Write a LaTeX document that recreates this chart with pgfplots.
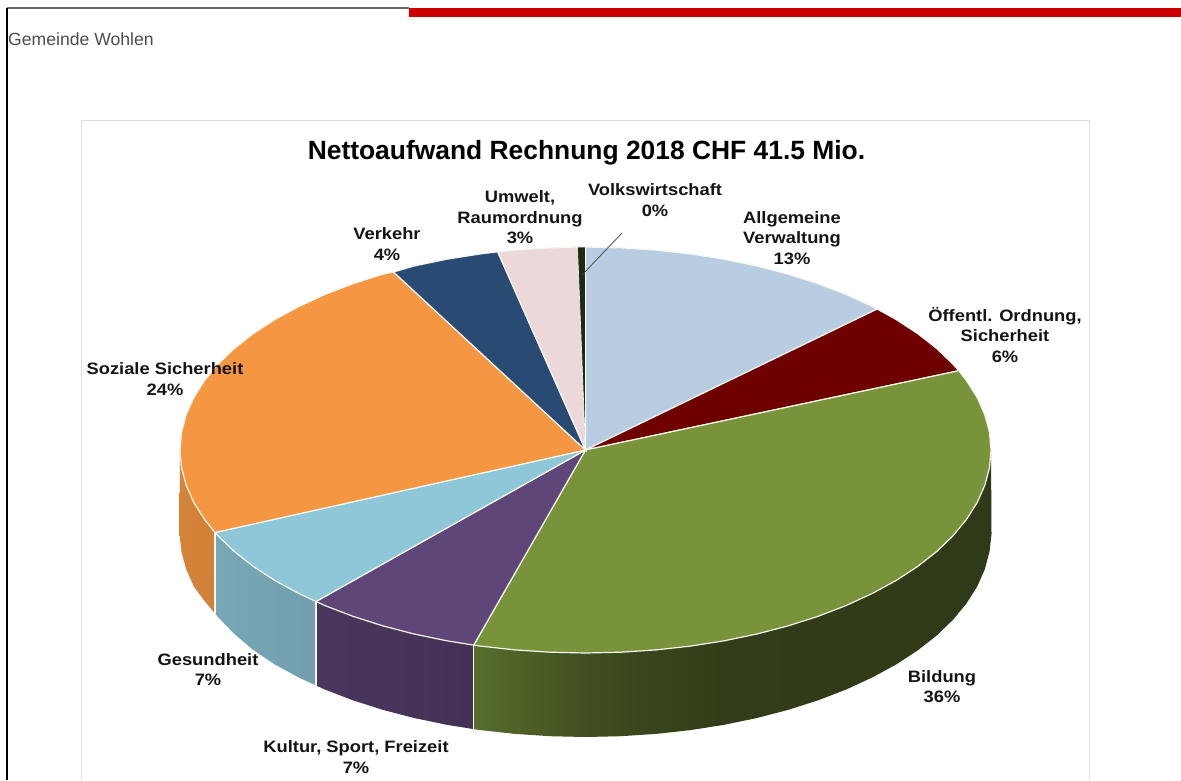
\documentclass[border=0pt]{standalone}
\usepackage{fontspec}
\setmainfont{Liberation Sans}
\newfontfamily\labfont[FakeStretch=1.11]{Liberation Sans}
\usepackage{pgfplots}
\pgfplotsset{compat=1.18}

\definecolor{cAllg}{HTML}{B8CCE2}
\definecolor{cOeff}{HTML}{6E0000}
\definecolor{cBild}{HTML}{789339}
\definecolor{cKult}{HTML}{5F4679}
\definecolor{cGes}{HTML}{8FC7D9}
\definecolor{cSoz}{HTML}{F59642}
\definecolor{cVerk}{HTML}{284A73}
\definecolor{cUmw}{HTML}{ECD8D8}
\definecolor{cVolk}{HTML}{1E2A12}
\definecolor{edge}{HTML}{F6F8F0}

% 25bp is the left end of the path, 75bp the right end
\pgfdeclarehorizontalshading{greenwall}{100bp}{
  rgb(0bp)=(.345,.43,.17); rgb(25bp)=(.345,.43,.17); rgb(37bp)=(.245,.30,.12);
  rgb(49bp)=(.195,.235,.095); rgb(100bp)=(.185,.22,.09)}

\newcommand{\lab}[3]{\node[align=center, text=black!92, font=\labfont\fontsize{16.5}{20.5}\selectfont\bfseries] at (axis cs:#1,#2) {#3};}

\begin{document}
\begin{tikzpicture}
\begin{axis}[
  width=1181pt, height=780pt, scale only axis,
  xmin=0, xmax=1181, ymin=0, ymax=780, y dir=reverse,
  hide axis, no markers, clip=true,
]
% page and frame
\addplot[fill=white, draw=none] coordinates {(0,0) (1181,0) (1181,780) (0,780)} -- cycle;
\addplot[draw=black!60, line width=1.2pt] coordinates {(7,8) (409,8)};
\addplot[draw=black, line width=1.1pt] coordinates {(7,8) (7,780)};
\addplot[fill=red!80!black, draw=none] coordinates {(409,8) (1181,8) (1181,17) (409,17)} -- cycle;
\addplot[draw=black!13, line width=0.9pt] coordinates {(81.5,780) (81.5,120.5) (1089,120.5) (1089,780)};

% side walls
\addplot[shading=axis, left color=cSoz!88!black, right color=cSoz!85!black, draw=none] coordinates {
  (215,532.5) (204.5,519.4) (193.8,502.5) (186.2,485.3) (181.5,467.7) (180,450)
  (179.5,534) (181.5,551.7) (186.2,569.3) (193.8,586.5) (204.5,601) (215,613.5)} -- cycle;
\addplot[shading=axis, left color=cGes!84!black, right color=cGes!80!black, draw=none] coordinates {
  (316,601.5) (298.8,593.5) (274.9,580.5) (253.3,566.4) (234.3,551.5) (218,535.8) (215,532.5)
  (215,613.5) (218,617) (234.3,634) (253.3,650) (274.9,664.5) (298.8,677.5) (316,685.5)} -- cycle;
\addplot[shading=axis, left color=cKult!78!black, right color=cKult!70!black, draw=none] coordinates {
  (473.7,645.1) (446.8,640.8) (414.1,634) (382.7,625.8) (352.9,616.3) (324.8,605.5) (316,601.5)
  (316,685.5) (324.8,689.5) (352.9,700.3) (382.7,709.8) (414.1,718) (446.8,724.8) (473.7,729.1)} -- cycle;
\addplot[shading=greenwall, draw=none] coordinates {
  (473.7,645.1) (480.5,646.1) (515.1,649.9) (550.2,652.2) (585.5,653) (620.8,652.2) (655.9,649.9)
  (690.5,646.1) (724.2,640.8) (756.9,634) (788.3,625.8) (818.1,616.3) (846.2,605.5) (872.2,593.5)
  (896.1,580.5) (917.7,566.4) (936.7,551.5) (953,535.8) (966.5,519.4) (977.2,502.5) (984.8,485.3)
  (989.5,467.7) (991,450)
  (991.5,534) (989.5,551.7) (984.8,569.3) (977.2,586.5) (966.5,603.4) (953,619.8) (936.7,635.5)
  (917.7,650.4) (896.1,664.5) (872.2,677.5) (846.2,689.5) (818.1,700.3) (788.3,709.8) (756.9,718)
  (724.2,724.8) (690.5,730.1) (655.9,733.9) (620.8,736.2) (585.5,737) (550.2,736.2) (515.1,733.9)
  (480.5,730.1) (473.7,729.1)} -- cycle;
% wall seams
\addplot[draw=edge, line width=1.2pt] coordinates {(215,532.5) (215,613.5)};
\addplot[draw=edge, line width=1.2pt] coordinates {(316,601.5) (316,685.5)};
\addplot[draw=edge, line width=1.2pt] coordinates {(473.7,645.1) (473.7,729.1)};

% top slices
\addplot[fill=cAllg, draw=edge, line width=1.2pt] coordinates {
  (585.5,450) (585.5,247) (620.8,247.8) (655.9,250.1) (690.5,253.9) (724.2,259.2) (756.9,266)
  (788.3,274.2) (818.1,283.7) (846.2,294.5) (872.2,306.5) (877.2,309)} -- cycle;
\addplot[fill=cOeff, draw=edge, line width=1.2pt] coordinates {
  (585.5,450) (877.2,309) (896.1,319.5) (917.7,333.6) (936.7,348.5) (953,364.2) (958.8,370.7)} -- cycle;
\addplot[fill=cBild, draw=edge, line width=1.2pt] coordinates {
  (585.5,450) (958.8,370.7) (966.5,380.6) (977.2,397.5) (984.8,414.7) (989.5,432.3) (991,450)
  (989.5,467.7) (984.8,485.3) (977.2,502.5) (966.5,519.4) (953,535.8) (936.7,551.5) (917.7,566.4)
  (896.1,580.5) (872.2,593.5) (846.2,605.5) (818.1,616.3) (788.3,625.8) (756.9,634) (724.2,640.8)
  (690.5,646.1) (655.9,649.9) (620.8,652.2) (585.5,653) (550.2,652.2) (515.1,649.9) (480.5,646.1)
  (473.7,645.1)} -- cycle;
\addplot[fill=cKult, draw=edge, line width=1.2pt] coordinates {
  (585.5,450) (473.7,645.1) (446.8,640.8) (414.1,634) (382.7,625.8) (352.9,616.3) (324.8,605.5)
  (316,601.5)} -- cycle;
\addplot[fill=cGes, draw=edge, line width=1.2pt] coordinates {
  (585.5,450) (316,601.5) (298.8,593.5) (274.9,580.5) (253.3,566.4) (234.3,551.5) (218,535.8)
  (215,532.5)} -- cycle;
\addplot[fill=cSoz, draw=edge, line width=1.2pt] coordinates {
  (585.5,450) (215,532.5) (204.5,519.4) (193.8,502.5) (186.2,485.3) (181.5,467.7) (180,450)
  (181.5,432.3) (186.2,414.7) (193.8,397.5) (204.5,380.6) (218,364.2) (234.3,348.5) (253.3,333.6)
  (274.9,319.5) (298.8,306.5) (324.8,294.5) (352.9,283.7) (382.7,274.2) (393.5,272)} -- cycle;
\addplot[fill=cVerk, draw=edge, line width=1.2pt] coordinates {
  (585.5,450) (393.5,272) (414.1,266) (446.8,259.2) (480.5,253.9) (497.7,251.8)} -- cycle;
\addplot[fill=cUmw, draw=edge, line width=1.2pt] coordinates {
  (585.5,450) (497.7,251.8) (515.1,250.1) (550.2,247.8) (578.4,247)} -- cycle;
\addplot[fill=cVolk, draw=edge, line width=0.6pt] coordinates {
  (585.5,450) (577.5,247) (585.5,247)} -- cycle;
% leader line
\addplot[draw=black!75, line width=0.7pt] coordinates {(622,233) (582,275)};

% text
\node[anchor=west, inner sep=0pt, text=black!70, font=\fontsize{17.6}{20}\selectfont] at (axis cs:8,39) {Gemeinde Wohlen};
\node[text=black, font=\fontsize{26.4}{30}\selectfont\bfseries] at (axis cs:586.5,152.5) {Nettoaufwand Rechnung 2018 CHF 41.5 Mio.};
\lab{520}{217.5}{Umwelt,\\Raumordnung\\3\%}
\lab{655}{200}{Volkswirtschaft\\0\%}
\lab{792}{238}{Allgemeine\\Verwaltung\\13\%}
\lab{1005}{335}{Öffentl. Ordnung,\\Sicherheit\\6\%}
\lab{387}{244}{Verkehr\\4\%}
\lab{165}{379}{Soziale Sicherheit\\24\%}
\lab{208}{669.5}{Gesundheit\\7\%}
\lab{942}{686.5}{Bildung\\36\%}
\lab{356}{757}{Kultur, Sport, Freizeit\\7\%}
\end{axis}
\end{tikzpicture}
\end{document}
